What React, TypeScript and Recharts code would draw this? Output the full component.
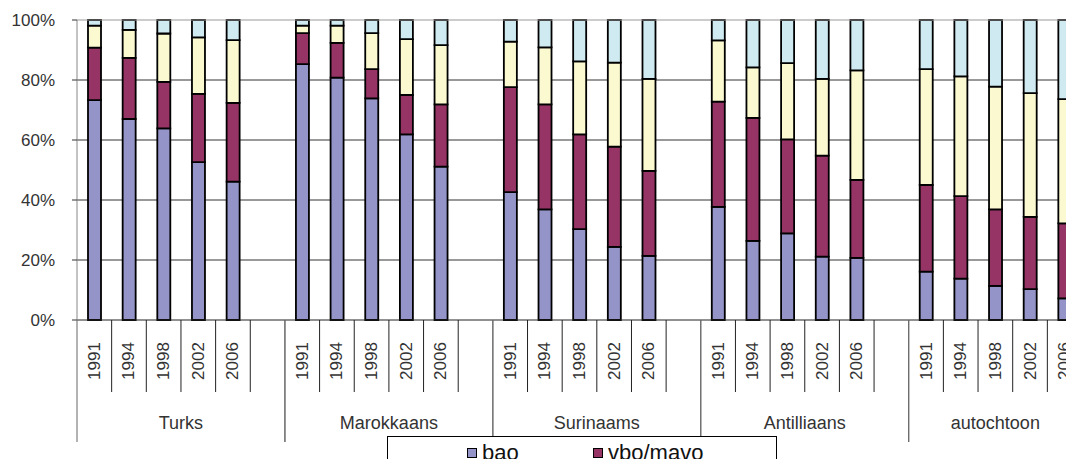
import React from 'react';
import { BarChart, Bar, XAxis, YAxis, CartesianGrid, Legend, ReferenceLine } from 'recharts';

const groups = ['Turks', 'Marokkaans', 'Surinaams', 'Antilliaans', 'autochtoon'];
const years = ['1991', '1994', '1998', '2002', '2006'];
const seriesKeys = ['bao', 'vboMavo', 'havoVwo', 'hboWo'];
const seriesNames = ['bao', 'vbo/mavo', 'havo/vwo', 'hbo/wo'];
const seriesColors = ['#9494C8', '#953465', '#FBF9D0', '#CFEBF1'];

// values per group (Turks, Marokkaans, Surinaams, Antilliaans, autochtoon), years 1991..2006
const bao = [
  73.3, 67.0, 63.9, 52.6, 46.1,
  85.3, 80.8, 73.9, 61.9, 51.1,
  42.6, 36.9, 30.3, 24.4, 21.4,
  37.7, 26.4, 28.9, 21.1, 20.7,
  16.1, 13.8, 11.4, 10.3, 7.2,
];
const vboMavo = [
  17.5, 20.4, 15.5, 22.8, 26.3,
  10.3, 11.6, 9.7, 13.1, 20.8,
  35.0, 35.0, 31.6, 33.4, 28.3,
  35.1, 41.0, 31.3, 33.7, 26.0,
  28.9, 27.5, 25.5, 24.1, 25.0,
];
const havoVwo = [
  7.3, 9.3, 16.1, 18.8, 20.9,
  2.5, 5.7, 12.0, 18.6, 19.7,
  15.2, 19.0, 24.3, 28.0, 30.7,
  20.4, 16.8, 25.4, 25.6, 36.5,
  38.6, 39.9, 40.9, 41.2, 41.4,
];
const hboWo = [
  1.9, 3.3, 4.5, 5.8, 6.7,
  1.9, 1.9, 4.4, 6.4, 8.4,
  7.2, 9.1, 13.8, 14.2, 19.6,
  6.8, 15.8, 14.4, 19.6, 16.8,
  16.4, 18.8, 22.2, 24.4, 26.4,
];
const yTicks = [0, 20, 40, 60, 80, 100];
const gridValues = [20, 40, 60, 80];

type Slot = {
  slot: string;
  group: string;
  year: string;
  first: boolean;
  groupSize: number;
  bao?: number;
  vboMavo?: number;
  havoVwo?: number;
  hboWo?: number;
};

const data: Slot[] = [];
groups.forEach((g, gi) => {
  const hasGap = gi < groups.length - 1;
  const size = years.length + (hasGap ? 1 : 0);
  years.forEach((yr, yi) => {
    const i = gi * years.length + yi;
    data.push({
      slot: `${g}-${yr}`,
      group: g,
      year: yr,
      first: yi === 0,
      groupSize: size,
      bao: bao[i],
      vboMavo: vboMavo[i],
      havoVwo: havoVwo[i],
      hboWo: hboWo[i],
    });
  });
  if (hasGap) {
    data.push({ slot: `${g}-gap`, group: g, year: '', first: false, groupSize: size });
  }
});

const W = 1100;
const H = 470;
const MARGIN = { top: 20, right: 18, left: 0, bottom: 0 };
const Y_AXIS_W = 77;
const PLOT_W = W - MARGIN.left - MARGIN.right - Y_AXIS_W;
const SLOT = PLOT_W / data.length;
const FONT = '"Liberation Sans", Arial, sans-serif';

function XTick(props: any) {
  const { x, y, index } = props;
  const d = data[index];
  if (!d) return null;
  const left = x - SLOT / 2;
  const right = x + SLOT / 2;
  const lastInGroup = index === data.length - 1 || data[index + 1].group !== d.group;
  return (
    <g>
      {d.first && (
        <line x1={left} x2={left} y1={y} y2={y + 122} stroke="#666" strokeWidth={1} />
      )}
      <line
        x1={right}
        x2={right}
        y1={y}
        y2={lastInGroup ? y + 122 : y + 72}
        stroke={lastInGroup ? '#666' : '#222'}
        strokeWidth={1}
      />
      {d.year && (
        <text
          transform={`translate(${x},${y + 41}) rotate(-90)`}
          textAnchor="middle"
          dominantBaseline="central"
          fontSize={17}
          fontFamily={FONT}
          fill="#333"
        >
          {d.year}
        </text>
      )}
      {d.first && (
        <text
          x={left + (d.groupSize * SLOT) / 2}
          y={y + 103}
          textAnchor="middle"
          dominantBaseline="central"
          fontSize={18}
          fontFamily={FONT}
          fill="#333"
        >
          {d.group}
        </text>
      )}
    </g>
  );
}

function LegendBox(props: any) {
  const payload = [...(props.payload || [])].sort(
    (a: any, b: any) => seriesNames.indexOf(a.value) - seriesNames.indexOf(b.value)
  );
  return (
    <div
      style={{
        boxSizing: 'border-box',
        width: 390,
        height: 64,
        border: '1px solid #000',
        background: '#fff',
        paddingLeft: 79,
        paddingTop: 3,
        display: 'flex',
        flexWrap: 'wrap',
        fontFamily: FONT,
      }}
    >
      {payload.map((p: any) => (
        <div
          key={p.value}
          style={{ width: 126, height: 25, display: 'flex', alignItems: 'center' }}
        >
          <span
            style={{
              boxSizing: 'border-box',
              display: 'inline-block',
              width: 10,
              height: 10,
              border: '1px solid #000',
              background: p.color,
              marginRight: 5,
            }}
          />
          <span style={{ fontSize: 22, lineHeight: '25px', color: '#111' }}>{p.value}</span>
        </div>
      ))}
    </div>
  );
}

export default function App() {
  return (
    <div
      style={{
        position: 'absolute',
        left: 0,
        top: 0,
        width: 1066,
        height: 459,
        overflow: 'hidden',
        background: '#fff',
      }}
    >
      <BarChart width={W} height={H} data={data} margin={MARGIN} barSize={13}>
        <CartesianGrid vertical={false} stroke="#333" horizontalValues={gridValues} />
        <ReferenceLine y={100} stroke="#999" />
        <XAxis
          dataKey="slot"
          interval={0}
          height={150}
          tickSize={0}
          tickMargin={0}
          tickLine={false}
          axisLine={{ stroke: '#222' }}
          tick={(p: any) => <XTick {...p} />}
        />
        <YAxis
          width={Y_AXIS_W}
          domain={[0, 100]}
          ticks={yTicks}
          interval={0}
          tickFormatter={(v: number) => `${v}%`}
          tickSize={5}
          tickMargin={17}
          axisLine={{ stroke: '#888' }}
          tickLine={{ stroke: '#333' }}
          tick={{ fill: '#333', fontSize: 17, fontFamily: FONT }}
        />
        <Legend
          layout="vertical"
          align="center"
          verticalAlign="middle"
          wrapperStyle={{ left: 387, top: 436, width: 390, height: 64 }}
          content={(p: any) => <LegendBox {...p} />}
        />
        {seriesKeys.map((k, i) => (
          <Bar
            key={k}
            dataKey={k}
            name={seriesNames[i]}
            stackId="a"
            fill={seriesColors[i]}
            stroke="#000"
            strokeWidth={1.8}
            isAnimationActive={false}
          />
        ))}
      </BarChart>
    </div>
  );
}
